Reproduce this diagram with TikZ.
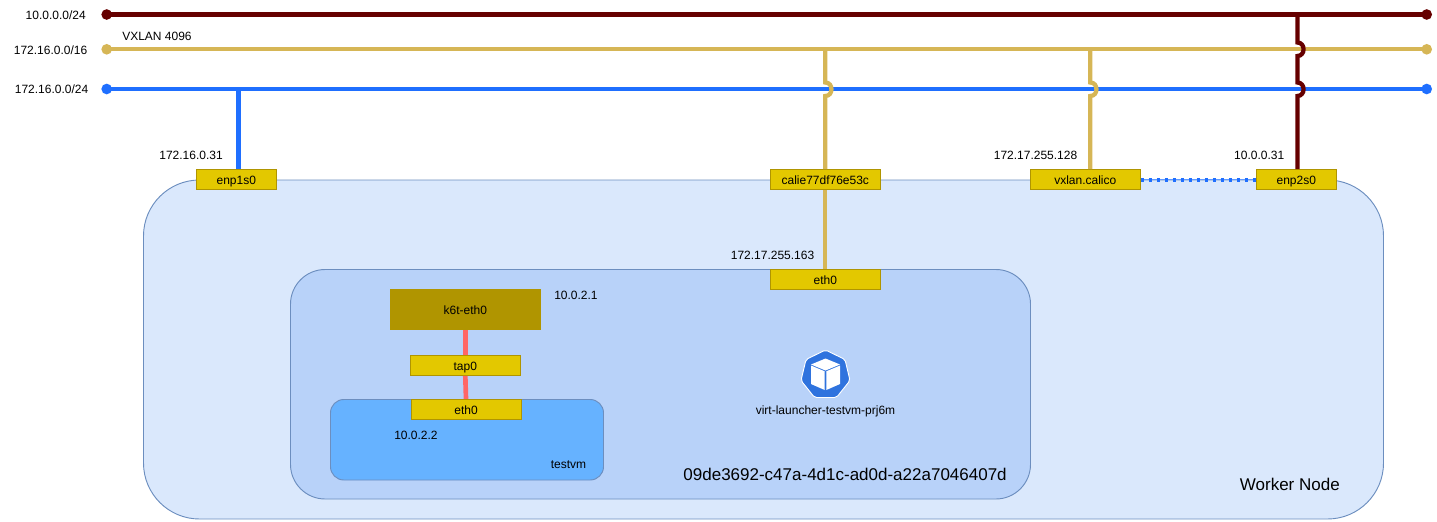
\documentclass[tikz,border=0pt]{standalone}
\usepackage{fontspec}
\setmainfont{Liberation Sans}
\definecolor{busred}{HTML}{660000}
\definecolor{busgold}{HTML}{D6B656}
\definecolor{busblue}{HTML}{1F6FFF}
\definecolor{ifill}{HTML}{E3C800}
\definecolor{idraw}{HTML}{B09500}
\definecolor{wfill}{HTML}{DAE8FC}
\definecolor{wdraw}{HTML}{6C8EBF}
\definecolor{pfill}{HTML}{B8D2F9}
\definecolor{vmfill}{HTML}{66B2FF}
\definecolor{vethred}{HTML}{FF6666}
\definecolor{kblue}{HTML}{2F73DE}
\tikzset{
 x=0.75pt,y=-0.75pt,
 lbl/.style={inner sep=0pt,font=\fontsize{9pt}{11pt}\selectfont,text=black},
 biglbl/.style={inner sep=0pt,font=\fontsize{12.75pt}{15pt}\selectfont,text=black},
 ifacetext/.style={inner sep=0pt,font=\fontsize{9pt}{11pt}\selectfont,text=black,text height=9pt,text depth=2pt},
 iface/.style={ifacetext,draw=idraw,fill=ifill,line width=0.7pt},
 area/.style={draw=wdraw,line width=0.7pt},
 busline/.style={line width=3.2pt},
 dot/.style={circle,inner sep=0pt,minimum size=8pt},
}
\newcommand{\ifacebox}[6]{\node[iface,minimum width=#4*0.75pt,minimum height=#5*0.75pt] (#1) at (#2,#3) {#6};}
\begin{document}
\begin{tikzpicture}
\useasboundingbox (0,0) rectangle (1437,521);
% areas
\path[area,fill=wfill,rounded corners=42pt] (143.5,180) rectangle (1383.5,519);
\path[area,fill=pfill,rounded corners=26pt] (290.5,269.5) rectangle (1030.5,499);
\path[area,fill=vmfill,rounded corners=10pt] (330.5,399.5) rectangle (603.5,480);
% bus end points
\node[dot,fill=busred] (rl) at (106.7,14.5) {};
\node[dot,fill=busred] (rr) at (1426.7,14.5) {};
\node[dot,fill=busgold] (gl) at (106.7,49.3) {};
\node[dot,fill=busgold] (gr) at (1426.7,49.3) {};
\node[dot,fill=busblue] (bl) at (106.7,89) {};
\node[dot,fill=busblue] (br) at (1426.7,89) {};
% interfaces
\ifacebox{enpa}{236.3}{179.6}{80}{20}{enp1s0}
\ifacebox{calie}{825.3}{179.6}{110}{20}{calie77df76e53c}
\ifacebox{vxlan}{1085.3}{179.6}{110}{20}{vxlan.calico}
\ifacebox{enpb}{1296.3}{179.6}{80}{20}{enp2s0}
\ifacebox{podeth}{825.3}{279.5}{110}{20}{eth0}
\node[ifacetext,fill=idraw,minimum width=113.25pt,minimum height=30.5pt] (k6t) at (465.3,309.5) {k6t-eth0};
\ifacebox{tap}{465.3}{365.4}{110}{20}{tap0}
\ifacebox{vmeth}{466}{409.4}{110}{20}{eth0}
% bus lines
\draw[busline,busblue] (bl.center) -- (br.center);
\draw[busline,busgold] (gl.center) -- (gr.center);
\draw[busline,busred] (rl.center) -- (rr.center);
% drops
\coordinate (tenp) at (238.4,89);
\coordinate (benp) at (238.4,169);
\draw[busline,busblue] (tenp) -- (benp);
\coordinate (tc) at (825.3,49);
\coordinate (jca) at (825.3,82.5);
\coordinate (jcb) at (825.3,96);
\draw[busline,busgold] (tc) -- (jca) .. controls (833.5,82.5) and (833.5,96) .. (jcb) -- (calie.north);
\coordinate (tv) at (1090.3,49);
\coordinate (jva) at (1090.3,82.5);
\coordinate (jvb) at (1090.3,96);
\coordinate (bv) at (1090.3,169);
\draw[busline,busgold] (tv) -- (jva) .. controls (1098.5,82.5) and (1098.5,96) .. (jvb) -- (bv);
\coordinate (tr) at (1297.4,14.5);
\coordinate (jra) at (1297.4,42.5);
\coordinate (jrb) at (1297.4,56);
\coordinate (jrc) at (1297.4,82.5);
\coordinate (jrd) at (1297.4,96);
\coordinate (br2) at (1297.4,169);
\draw[busline,busred] (tr) -- (jra) .. controls (1305.6,42.5) and (1305.6,56) .. (jrb) -- (jrc) .. controls (1305.6,82.5) and (1305.6,96) .. (jrd) -- (br2);
% calie to pod
\draw[busline,busgold] (calie.south) -- (podeth.north);
% veth
\draw[line width=3.5pt,vethred] (k6t.south) -- (tap.north);
\draw[line width=3.5pt,vethred] (tap.south) -- (vmeth.north);
% vxlan to enp2s0
\draw[line width=1pt,busblue!70] (vxlan.east) -- (enpb.west);
\draw[line width=3pt,busblue,dash pattern=on 2.25pt off 3.75pt,dash phase=0pt] (vxlan.east) -- (enpb.west);
% labels
\node[lbl,anchor=east] (l1) at (86,15) {10.0.0.0/24};
\node[lbl,anchor=east] (l2) at (87.5,50.5) {172.16.0.0/16};
\node[lbl,anchor=east] (l3) at (88.5,89.5) {172.16.0.0/24};
\node[lbl,anchor=west] (l4) at (122,36.5) {VXLAN 4096};
\node[lbl,anchor=east] (l5) at (223,155) {172.16.0.31};
\node[lbl,anchor=east] (l6) at (1077.5,155) {172.17.255.128};
\node[lbl,anchor=east] (l7) at (1284.5,155) {10.0.0.31};
\node[lbl,anchor=east] (l8) at (814.5,255) {172.17.255.163};
\node[lbl,anchor=west] (l9) at (554,295) {10.0.2.1};
\node[lbl,anchor=west] (l10) at (394,435) {10.0.2.2};
\node[lbl,anchor=east] (l11) at (586.5,465) {testvm};
\node[lbl] (l12) at (825.5,411) {virt-launcher-testvm-prj6m};
\node[biglbl,anchor=east] (l13) at (1007,474.5) {09de3692-c47a-4d1c-ad0d-a22a7046407d};
\node[biglbl,anchor=east] (l14) at (1340,484.5) {Worker Node};
% icon
\filldraw[fill=kblue,draw=white,line width=0.7pt,line join=round,rounded corners=1.5pt]
 (825.5,350) -- (845,359.5) -- (850,380.5) -- (836.5,397.5) -- (814.5,397.5) -- (801,380.5) -- (806,359.5) -- cycle;
\fill[white] (825.5,358.5) -- (840,364.5) -- (825.5,370.5) -- (811,364.5) -- cycle;
\fill[white] (811,365.5) -- (824.7,371.3) -- (824.7,390) -- (811,384) -- cycle;
\fill[white] (840,365.5) -- (826.3,371.3) -- (826.3,390) -- (840,384) -- cycle;
\end{tikzpicture}
\end{document}
